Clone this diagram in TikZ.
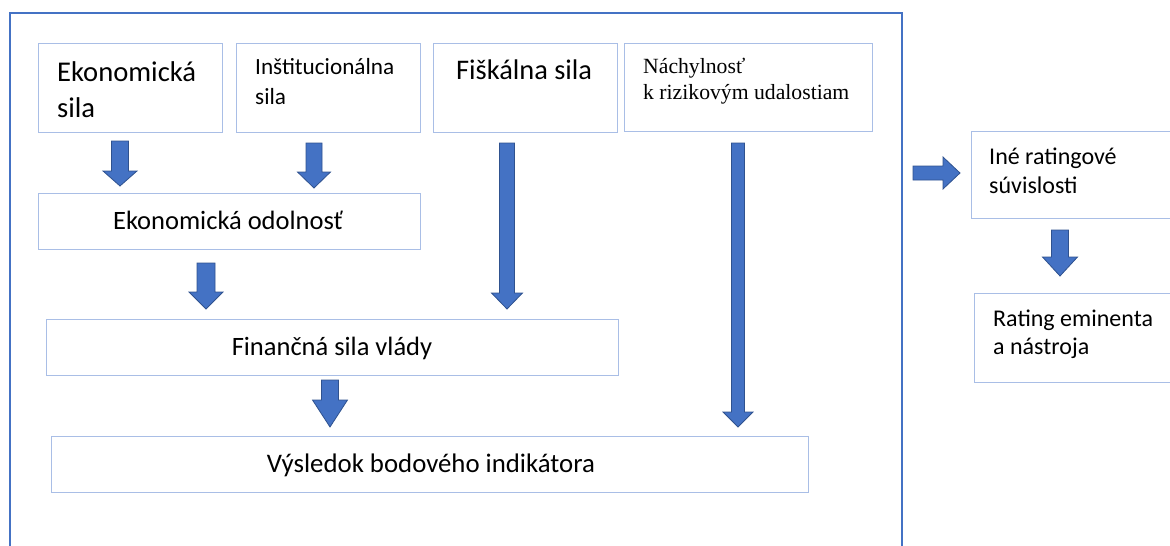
\documentclass[tikz,border=0pt]{standalone}
\usepackage{fontspec}
\setmainfont{Carlito}
\newfontfamily\serifnote{Liberation Serif}
\definecolor{frameblue}{HTML}{4472C4}
\definecolor{boxblue}{HTML}{A9BEE6}
\definecolor{arrowfill}{HTML}{4472C4}
\definecolor{arrowedge}{HTML}{2F528F}
\tikzset{
  box/.style={draw=boxblue, line width=1pt, fill=white},
  blockarrow/.style={fill=arrowfill, draw=arrowedge, line width=0.8pt, line join=miter},
  txt/.style={inner sep=0pt, anchor=base west, align=left},
}
% down block arrow: x, ytop, yheadstart, ytip, shaft half width, head half width
\newcommand{\myDownArrow}[6]{%
  \draw[blockarrow] (#1-#5,#2) -- (#1+#5,#2) -- (#1+#5,#3) -- (#1+#6,#3) -- (#1,#4)
    -- (#1-#6,#3) -- (#1-#5,#3) -- cycle;}
\begin{document}
\begin{tikzpicture}[x=1pt,y=-1pt]
\useasboundingbox (0,0) rectangle (1170,546);
% outer frame
\draw[frameblue, line width=2pt] (10,547) -- (10,13) -- (902,13) -- (902,547);
% boxes
\draw[box] (38,43) rectangle (222,132);
\draw[box] (236,43) rectangle (420,132);
\draw[box] (433,43) rectangle (617,132);
\draw[box] (624,43) rectangle (872,131);
\draw[box] (38,193) rectangle (420,249);
\draw[box] (46,319) rectangle (618,375);
\draw[box] (51,436) rectangle (808,492);
\draw[box] (971,131) rectangle (1175,218);
\draw[box] (974,293) rectangle (1175,382);
% texts
\node[txt, font=\fontsize{28.6}{36}\selectfont] (ekon) at (57,81) {Ekonomická};
\node[txt, font=\fontsize{28.6}{36}\selectfont] (ekon2) at (57,117) {sila};
\node[txt, font=\fontsize{23.2}{30}\selectfont] (inst) at (255,74) {Inštitucionálna};
\node[txt, font=\fontsize{23.2}{30}\selectfont] (inst2) at (255,104) {sila};
\node[txt, font=\fontsize{28.4}{32}\selectfont] (fisk) at (456,79) {Fiškálna sila};
\node[txt, font=\serifnote\fontsize{21.7}{26}\selectfont] (nach) at (643,73) {Náchylnosť};
\node[txt, font=\serifnote\fontsize{21.7}{26}\selectfont] (nach2) at (643,99) {k rizikovým udalostiam};
\node[inner sep=0pt, anchor=base, font=\fontsize{26.5}{30}\selectfont] (odol) at (228,229) {Ekonomická odolnosť};
\node[inner sep=0pt, anchor=base, font=\fontsize{26.5}{30}\selectfont] (fin) at (332,355) {Finančná sila vlády};
\node[inner sep=0pt, anchor=base, font=\fontsize{26.8}{30}\selectfont] (vys) at (431,472) {Výsledok bodového indikátora};
\node[txt, font=\fontsize{24}{29}\selectfont] (ine) at (989,164) {Iné ratingové};
\node[txt, font=\fontsize{24}{29}\selectfont] (ine2) at (989,193) {súvislosti};
\node[txt, font=\fontsize{24}{29}\selectfont] (rat) at (993,326) {Rating eminenta};
\node[txt, font=\fontsize{24}{29}\selectfont] (rat2) at (993,354) {a nástroja};
% block arrows
\myDownArrow{120}{141}{171}{186}{8.5}{17}
\myDownArrow{314}{143}{172}{188}{8}{16.5}
\myDownArrow{507}{143}{293}{309}{7.5}{15.5}
\myDownArrow{738}{143}{412}{427}{6.5}{15}
\myDownArrow{206}{263}{292}{309}{9}{17}
\myDownArrow{330}{380}{400}{427}{8.5}{17.5}
\myDownArrow{1060}{230}{257}{276}{8.5}{17.5}
\draw[blockarrow] (913,166) -- (943,166) -- (943,157) -- (960,173) -- (943,189)
  -- (943,180) -- (913,180) -- cycle;
\end{tikzpicture}
\end{document}
